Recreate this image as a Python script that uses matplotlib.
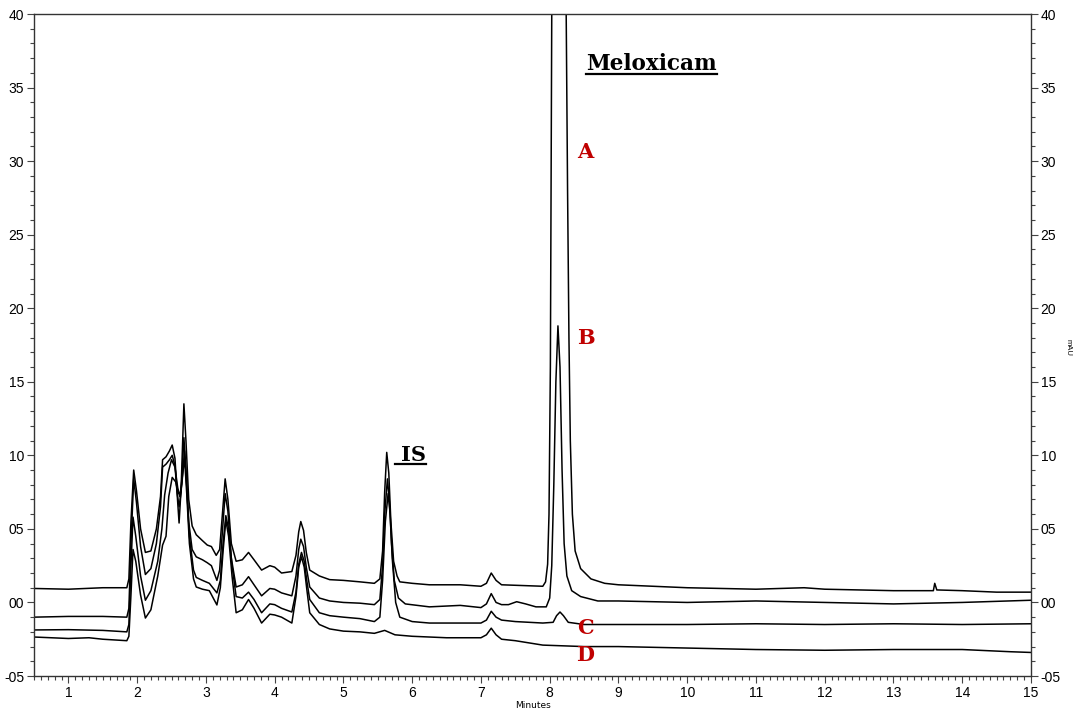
import matplotlib
matplotlib.use("Agg")
import matplotlib.pyplot as plt
from matplotlib.ticker import MultipleLocator, FixedLocator, FixedFormatter
from matplotlib.lines import Line2D

# chromatogram traces (time in min, signal)
a_t = [0.5, 1.0, 1.5, 1.85, 1.88, 1.91, 1.95, 1.99, 2.05, 2.12, 2.2, 2.28, 2.34, 2.37, 2.42, 2.47,
       2.51, 2.55, 2.58, 2.61, 2.64, 2.68, 2.71, 2.75, 2.8, 2.86, 2.95, 3.02, 3.08, 3.15, 3.2, 3.24,
       3.28, 3.32, 3.37, 3.44, 3.53, 3.62, 3.7, 3.81, 3.93, 4.0, 4.1, 4.25, 4.31, 4.35, 4.38, 4.42,
       4.46, 4.51, 4.65, 4.8, 5.0, 5.24, 5.45, 5.53, 5.57, 5.6, 5.63, 5.66, 5.69, 5.73, 5.78, 5.82,
       6.0, 6.25, 6.7, 7.0, 7.08, 7.15, 7.22, 7.3, 7.6, 7.9, 7.94, 7.97, 7.99, 8.01, 8.02, 8.03,
       8.13, 8.24, 8.26, 8.28, 8.3, 8.33, 8.37, 8.45, 8.6, 8.8, 9.0, 10.0, 11.0, 11.7, 12.0, 13.0,
       13.58, 13.6, 13.63, 14.0, 14.5, 15.0]
a_y = [0.95, 0.9, 1.0, 1.0, 1.6, 5.5, 9.0, 7.6, 5.0, 3.4, 3.5, 5.0, 7.2, 9.7, 9.9, 10.3,
       10.7, 9.8, 7.5, 5.4, 7.8, 13.5, 11.0, 7.0, 5.2, 4.6, 4.2, 3.9, 3.8, 3.2, 3.6, 6.0,
       8.4, 7.0, 4.0, 2.8, 2.9, 3.4, 2.9, 2.2, 2.5, 2.4, 2.0, 2.1, 3.2, 4.8, 5.5, 4.9,
       3.4, 2.2, 1.8, 1.55, 1.5, 1.4, 1.3, 1.6, 3.5, 7.5, 10.2, 8.8, 5.5, 2.8, 1.8, 1.4,
       1.3, 1.2, 1.2, 1.1, 1.3, 2.0, 1.5, 1.2, 1.15, 1.1, 1.4, 2.6, 6.0, 16.0, 28.0, 40.0,
       80.0, 40.0, 28.0, 18.0, 11.0, 6.0, 3.5, 2.3, 1.6, 1.3, 1.2, 1.0, 0.9, 1.0, 0.9, 0.8,
       0.8, 1.3, 0.85, 0.8, 0.7, 0.7]

b_t = [0.5, 1.0, 1.5, 1.85, 1.88, 1.91, 1.95, 1.99, 2.05, 2.12, 2.2, 2.28, 2.34, 2.37, 2.42, 2.47,
       2.51, 2.55, 2.58, 2.61, 2.64, 2.68, 2.71, 2.75, 2.8, 2.86, 2.95, 3.02, 3.08, 3.16, 3.2, 3.24,
       3.28, 3.32, 3.37, 3.44, 3.53, 3.62, 3.7, 3.81, 3.93, 4.0, 4.1, 4.25, 4.31, 4.35, 4.38, 4.42,
       4.46, 4.51, 4.65, 4.8, 5.0, 5.24, 5.45, 5.53, 5.57, 5.6, 5.64, 5.67, 5.7, 5.74, 5.8, 5.9,
       6.25, 6.7, 7.0, 7.08, 7.15, 7.22, 7.3, 7.4, 7.52, 7.65, 7.8, 7.95, 8.0, 8.03, 8.06, 8.09,
       8.12, 8.15, 8.18, 8.21, 8.25, 8.32, 8.45, 8.7, 9.0, 10.0, 11.0, 12.0, 13.0, 14.0, 15.0]
b_y = [-1.0, -0.95, -0.95, -1.0, -0.4, 4.0, 8.4, 6.8, 3.8, 1.9, 2.3, 4.0, 6.5, 9.2, 9.4, 9.7,
       10.0, 9.3, 7.5, 6.5, 7.5, 11.2, 9.0, 5.5, 3.6, 3.1, 2.9, 2.7, 2.5, 1.5, 2.2, 4.8,
       7.4, 6.2, 3.0, 1.05, 1.2, 1.75, 1.2, 0.45, 0.95, 0.9, 0.65, 0.45, 1.8, 3.6, 4.3, 3.8,
       2.4, 1.05, 0.3, 0.1, 0.0, -0.05, -0.15, 0.2, 2.5, 6.0, 8.4, 6.8, 4.0, 1.5, 0.3, -0.1,
       -0.3, -0.2, -0.35, -0.1, 0.6, 0.0, -0.15, -0.15, 0.05, -0.1, -0.3, -0.3, 0.3, 2.5, 8.0, 15.0,
       18.8, 16.0, 9.0, 4.0, 1.8, 0.8, 0.4, 0.1, 0.1, 0.0, 0.1, 0.0, -0.1, 0.0, 0.15]

c_t = [0.5, 1.0, 1.5, 1.85, 1.88, 1.91, 1.94, 1.98, 2.05, 2.12, 2.2, 2.3, 2.36, 2.4, 2.45, 2.5,
       2.55, 2.59, 2.62, 2.65, 2.69, 2.72, 2.76, 2.82, 2.86, 2.95, 3.05, 3.16, 3.21, 3.25, 3.29, 3.33,
       3.38, 3.44, 3.53, 3.62, 3.7, 3.81, 3.93, 4.0, 4.1, 4.25, 4.31, 4.35, 4.39, 4.43, 4.47, 4.51,
       4.65, 4.8, 5.0, 5.24, 5.45, 5.53, 5.57, 5.61, 5.65, 5.68, 5.71, 5.76, 5.82, 6.0, 6.25, 6.7,
       7.0, 7.08, 7.15, 7.22, 7.3, 7.5, 7.9, 8.05, 8.1, 8.15, 8.2, 8.27, 8.5, 9.0, 10.0, 11.0,
       12.0, 13.0, 14.0, 15.0]
c_y = [-1.87, -1.85, -1.9, -2.0, -1.5, 2.5, 5.8, 4.5, 1.8, 0.15, 0.8, 2.8, 5.0, 7.3, 8.8, 9.7,
       9.2, 7.8, 7.2, 8.0, 10.3, 8.0, 4.5, 2.2, 1.7, 1.5, 1.3, 0.65, 1.5, 4.0, 5.9, 5.0,
       2.5, 0.4, 0.3, 0.7, 0.2, -0.7, -0.1, -0.15, -0.4, -0.65, 0.7, 2.6, 3.4, 2.8, 1.4, 0.2,
       -0.7, -0.9, -1.0, -1.1, -1.3, -1.0, 1.5, 5.5, 7.4, 6.0, 3.0, 0.0, -1.0, -1.3, -1.4, -1.4,
       -1.4, -1.2, -0.6, -1.0, -1.2, -1.3, -1.4, -1.35, -0.9, -0.65, -0.9, -1.35, -1.5, -1.5, -1.5, -1.45,
       -1.5, -1.45, -1.5, -1.45]

d_t = [0.5, 1.0, 1.3, 1.5, 1.85, 1.88, 1.91, 1.94, 1.98, 2.05, 2.12, 2.2, 2.3, 2.37, 2.42, 2.46,
       2.51, 2.56, 2.6, 2.63, 2.69, 2.72, 2.76, 2.82, 2.86, 2.95, 3.05, 3.16, 3.21, 3.25, 3.29, 3.33,
       3.38, 3.44, 3.53, 3.62, 3.7, 3.81, 3.93, 4.0, 4.1, 4.25, 4.31, 4.35, 4.39, 4.43, 4.47, 4.51,
       4.65, 4.8, 5.0, 5.24, 5.45, 5.6, 5.75, 6.0, 6.5, 7.0, 7.08, 7.15, 7.22, 7.3, 7.5, 7.9,
       8.5, 9.0, 10.0, 11.0, 12.0, 13.0, 14.0, 14.7, 15.0]
d_y = [-2.35, -2.45, -2.4, -2.5, -2.6, -2.3, 0.5, 3.6, 2.8, 0.5, -1.06, -0.5, 1.8, 3.9, 4.5, 7.2,
       8.5, 8.2, 7.4, 7.5, 9.8, 7.5, 4.0, 1.6, 1.05, 0.9, 0.8, -0.17, 1.0, 3.5, 5.6, 4.5,
       1.8, -0.7, -0.5, 0.2, -0.4, -1.4, -0.8, -0.85, -1.0, -1.4, 0.4, 2.4, 3.1, 2.4, 0.8, -0.7,
       -1.5, -1.8, -1.95, -2.0, -2.1, -1.9, -2.2, -2.3, -2.4, -2.4, -2.2, -1.75, -2.2, -2.5, -2.6, -2.9,
       -3.0, -3.0, -3.1, -3.2, -3.25, -3.2, -3.2, -3.35, -3.4]

y_ticks = [-5, 0, 5, 10, 15, 20, 25, 30, 35, 40]
y_labels = ['-05', '00', '05', '10', '15', '20', '25', '30', '35', '40']
trace_labels = ['A', 'B', 'C', 'D']

fig = plt.figure(figsize=(10.78, 7.13), dpi=100)
ax = fig.add_axes([34 / 1078, 1 - 676 / 713, (1031 - 34) / 1078, (676 - 14) / 713])

for t, y in [(a_t, a_y), (b_t, b_y), (c_t, c_y), (d_t, d_y)]:
    ax.plot(t, y, color='black', lw=1.1)

ax.set_xlim(0.5, 15)
ax.set_ylim(-5, 40)

ax.xaxis.set_major_locator(MultipleLocator(1))
ax.xaxis.set_minor_locator(MultipleLocator(0.1))
ax.yaxis.set_major_locator(FixedLocator(y_ticks))
ax.yaxis.set_major_formatter(FixedFormatter(y_labels))
ax.yaxis.set_minor_locator(MultipleLocator(1))
ax.tick_params(which='both', direction='out', color='#444444', width=0.8,
               labelsize=10, right=True, labelright=True)
ax.tick_params(which='major', length=5, pad=2)
ax.tick_params(which='minor', length=3)
for lab in ax.get_xticklabels() + ax.get_yticklabels():
    lab.set_family('Liberation Sans')
for sp in ax.spines.values():
    sp.set_color('#333333')
    sp.set_linewidth(1.0)

fig.text(533 / 1078, 1 - 706 / 713, 'Minutes', ha='center', va='center',
         fontsize=6.5, family='Liberation Sans Narrow')
fig.text(1068 / 1078, 1 - 347 / 713, 'mAU', ha='center', va='center',
         fontsize=5.5, rotation=-90, family='Liberation Sans')

# peak names
serif = 'DejaVu Serif'
t_mel = ax.text(8.53, 36.6, 'Meloxicam', fontsize=15.5, fontweight='bold',
                family=serif, ha='left', va='center')
t_is = ax.text(5.84, 10.0, 'IS', fontsize=15, fontweight='bold',
               family=serif, ha='left', va='center')

red = '#C00000'
lab_pos = [(8.52, 30.6), (8.52, 18.0), (8.52, -1.75), (8.52, -3.6)]
for lab, (x, y) in zip(trace_labels, lab_pos):
    ax.text(x, y, lab, color=red, fontsize=15, fontweight='bold',
            family=serif, ha='center', va='center')

# underline the peak names
fig.canvas.draw()
r = fig.canvas.get_renderer()
for t in [t_mel, t_is]:
    bb = t.get_window_extent(r)
    x0, x1 = bb.x0, bb.x1
    if t is t_is:
        x0 -= 6
    yy = bb.y0 + 1
    fig.add_artist(Line2D([x0 / fig.bbox.width, x1 / fig.bbox.width],
                          [yy / fig.bbox.height, yy / fig.bbox.height],
                          transform=fig.transFigure, color='black', lw=1.6))

fig.savefig('out.png', dpi=100)
